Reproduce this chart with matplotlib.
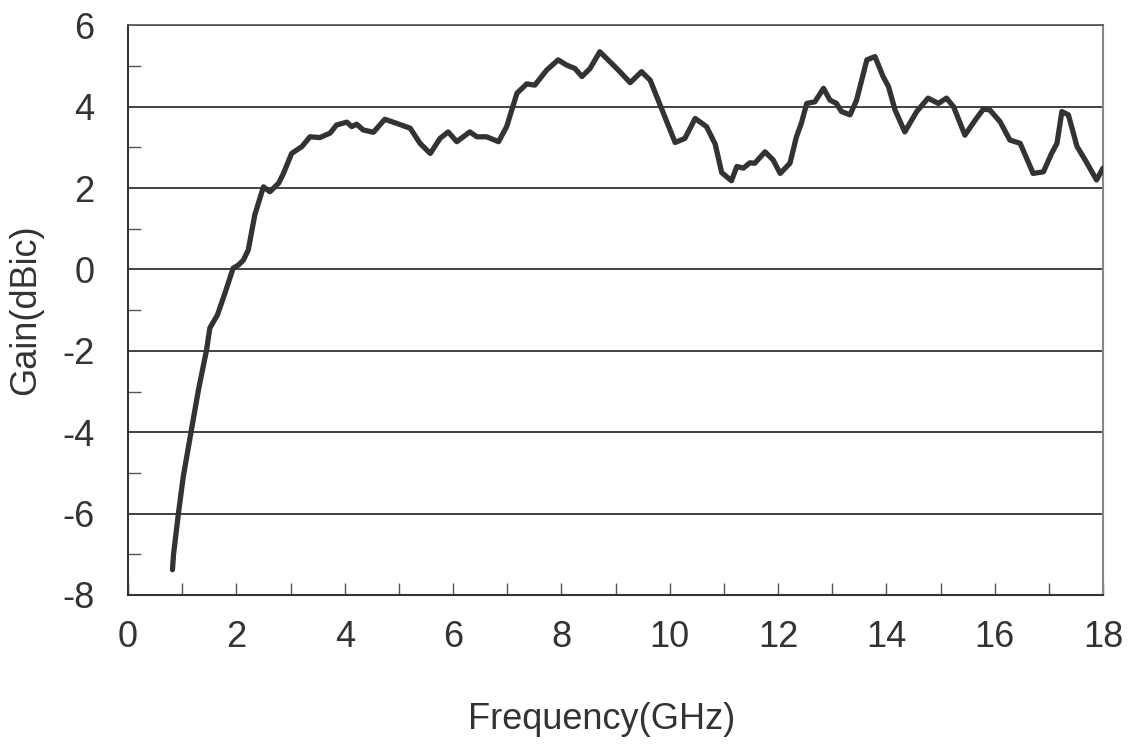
import numpy as np
import matplotlib.pyplot as plt
from matplotlib.ticker import MultipleLocator

# Gain vs frequency
freq = [0.82, 0.84, 0.93, 1.02, 1.16, 1.30, 1.45, 1.51, 1.65, 1.79, 1.94, 2.04, 2.13, 2.22,
        2.34, 2.50, 2.62, 2.78, 2.87, 3.02, 3.21, 3.36, 3.54, 3.73, 3.85, 4.04, 4.13, 4.22,
        4.34, 4.53, 4.74, 4.96, 5.21, 5.39, 5.58, 5.76, 5.91, 6.07, 6.31, 6.44, 6.62, 6.84,
        6.99, 7.18, 7.36, 7.51, 7.73, 7.94, 8.10, 8.25, 8.38, 8.53, 8.71, 8.90, 9.08, 9.27,
        9.48, 9.64, 9.82, 10.10, 10.28, 10.47, 10.68, 10.84, 10.96, 11.14, 11.24, 11.36,
        11.48, 11.57, 11.76, 11.91, 12.04, 12.22, 12.34, 12.43, 12.53, 12.68, 12.84, 12.96,
        13.08, 13.17, 13.33, 13.45, 13.64, 13.79, 13.94, 14.04, 14.16, 14.34, 14.56, 14.77,
        14.96, 15.11, 15.24, 15.45, 15.64, 15.79, 15.91, 16.10, 16.28, 16.47, 16.71, 16.90,
        17.05, 17.15, 17.24, 17.36, 17.52, 17.67, 17.88, 18.00]
gain = [-7.38, -7.00, -6.00, -5.09, -4.02, -2.96, -1.98, -1.44, -1.12, -0.58, 0.03, 0.11,
        0.23, 0.48, 1.34, 2.03, 1.91, 2.12, 2.36, 2.85, 3.02, 3.26, 3.24, 3.35, 3.55, 3.62,
        3.51, 3.57, 3.43, 3.37, 3.69, 3.59, 3.47, 3.10, 2.85, 3.22, 3.38, 3.14, 3.38, 3.26,
        3.26, 3.14, 3.51, 4.33, 4.56, 4.53, 4.90, 5.15, 5.02, 4.94, 4.74, 4.94, 5.35, 5.10,
        4.86, 4.59, 4.86, 4.65, 4.05, 3.12, 3.22, 3.71, 3.51, 3.08, 2.38, 2.18, 2.53, 2.49,
        2.62, 2.61, 2.89, 2.69, 2.36, 2.61, 3.26, 3.59, 4.08, 4.12, 4.45, 4.16, 4.08, 3.88,
        3.80, 4.16, 5.15, 5.23, 4.74, 4.49, 3.92, 3.38, 3.88, 4.21, 4.08, 4.21, 4.00, 3.30,
        3.67, 3.94, 3.92, 3.63, 3.18, 3.10, 2.36, 2.40, 2.85, 3.10, 3.88, 3.80, 3.02, 2.69,
        2.20, 2.49]

plt.rcParams['font.family'] = ['Liberation Sans', 'DejaVu Sans']
plt.rcParams['axes.unicode_minus'] = False

fig = plt.figure(figsize=(11.29, 7.44), dpi=100)
ax = fig.add_axes([0.1134, 0.2003, 0.8636, 0.7657])

ax.plot(freq, gain, color='#333333', linewidth=3.8, solid_capstyle='round',
        solid_joinstyle='round', zorder=3)

ax.set_xlim(0, 18)
ax.set_ylim(-8, 6)
ax.set_xticks(np.arange(0, 19, 2))
ax.xaxis.set_minor_locator(MultipleLocator(1))
ax.set_yticks(np.arange(-8, 7, 2))
ax.yaxis.set_minor_locator(MultipleLocator(1))

ax.grid(axis='y', which='major', color='#333333', linewidth=1.3)
ax.tick_params(axis='x', which='both', direction='in', length=9, width=1, color='#555555',
               labelsize=26, labelcolor='#333333', pad=18)
ax.tick_params(axis='y', which='major', length=0, labelsize=26, labelcolor='#333333', pad=24)
ax.tick_params(axis='y', which='minor', direction='in', length=9, width=1, color='#555555')

for side in ['left', 'bottom']:
    ax.spines[side].set_color('#333333')
    ax.spines[side].set_linewidth(1.5)
ax.spines['top'].set_color('#555555')
ax.spines['top'].set_linewidth(1.2)
ax.spines['right'].set_color('#888888')
ax.spines['right'].set_linewidth(1.5)

ax.set_xlabel('Frequency(GHz)', fontsize=26, color='#333333', labelpad=34, x=0.486)
ax.set_ylabel('Gain(dBic)', fontsize=26, color='#333333', labelpad=14)

fig.savefig('out.png', dpi=100)
